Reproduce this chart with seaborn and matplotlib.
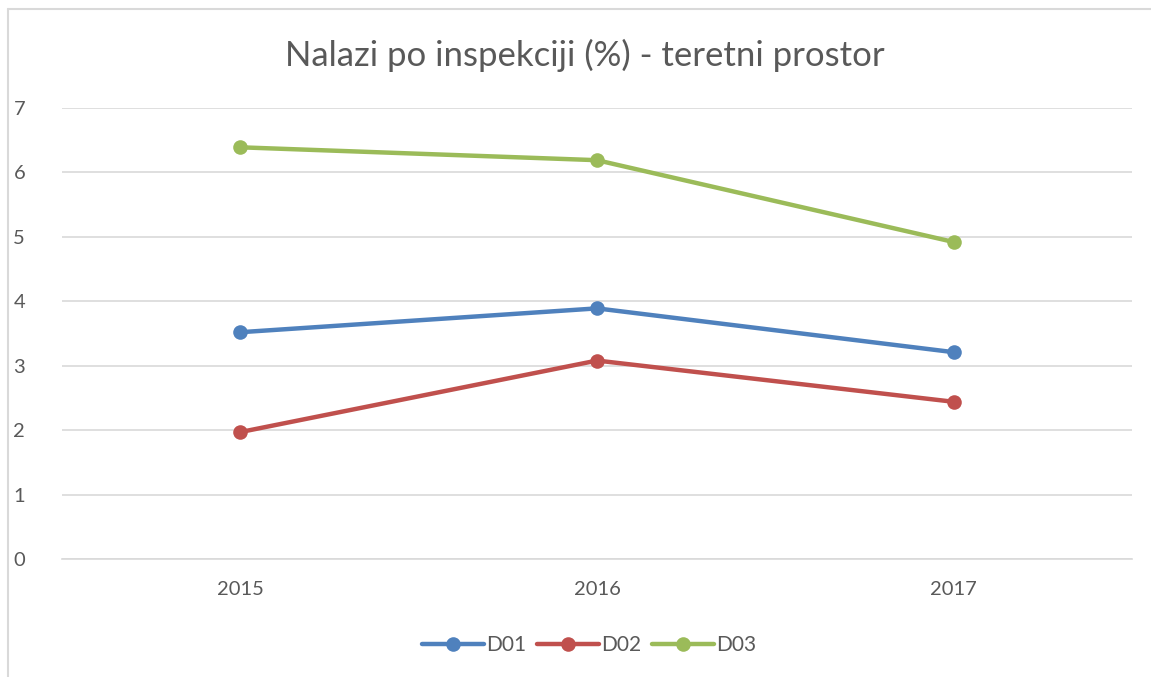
import pandas as pd
import matplotlib.pyplot as plt
import seaborn as sns
from matplotlib.lines import Line2D

# data
years = ["2015", "2016", "2017"]
d01 = [3.52, 3.89, 3.21]
d02 = [1.97, 3.08, 2.44]
d03 = [6.39, 6.19, 4.92]
series_names = ["D01", "D02", "D03"]
colors = ["#4F81BD", "#C0504D", "#9BBB59"]

df = pd.DataFrame({"D01": d01, "D02": d02, "D03": d03}, index=years)
long = df.reset_index(names="year").melt(id_vars="year", var_name="serija", value_name="pct")

sns.set_style("white")
plt.rcParams['font.family'] = ['Lato', 'DejaVu Sans']

fig = plt.figure(figsize=(11.51, 6.77), dpi=100)
ax = fig.add_axes([62/1151, 1 - 559/677, (1132 - 62)/1151, (559 - 108)/677])

sns.lineplot(data=long, x="year", y="pct", hue="serija", palette=colors,
             hue_order=series_names, marker="o", markersize=10.5,
             markeredgewidth=0, linewidth=3.2, ax=ax, sort=False)

ax.set_xlim(-0.5, 2.5)
ax.set_ylim(0, 7)
ax.set_yticks(range(0, 8))
ax.grid(axis="y", color="#D9D9D9", linewidth=1.2)
ax.set_axisbelow(True)
for s in ["top", "right", "left"]:
    ax.spines[s].set_visible(False)
ax.spines["bottom"].set_color("#D9D9D9")
ax.spines["bottom"].set_linewidth(1.2)
ax.tick_params(axis="both", length=0, labelsize=14.5, colors="#595959")
ax.tick_params(axis="x", pad=16)
ax.set_xlabel("")
ax.set_ylabel("")
for lab in ax.get_yticklabels():
    lab.set_horizontalalignment("left")
ax.tick_params(axis="y", pad=35)

fig.text(585/1151, 1 - 55/677, "Nalazi po inspekciji (%) - teretni prostor",
         ha="center", va="center", fontsize=25, color="#595959")

handles, labels = ax.get_legend_handles_labels()
ax.legend(handles, labels, loc="center", bbox_to_anchor=(589/1151, 1 - 645/677),
          bbox_transform=fig.transFigure, ncol=3, frameon=False, fontsize=15,
          labelcolor="#595959", handlelength=3.0, columnspacing=0.5, handletextpad=0.1)

# outer chart frame: only top and left edges are visible in the reference
fig.add_artist(Line2D([8/1151, 1], [1 - 9/677, 1 - 9/677], transform=fig.transFigure,
                      color="#D9D9D9", linewidth=1.5))
fig.add_artist(Line2D([8/1151, 8/1151], [0, 1 - 9/677], transform=fig.transFigure,
                      color="#D9D9D9", linewidth=1.5))

fig.savefig("out.png", dpi=100)
